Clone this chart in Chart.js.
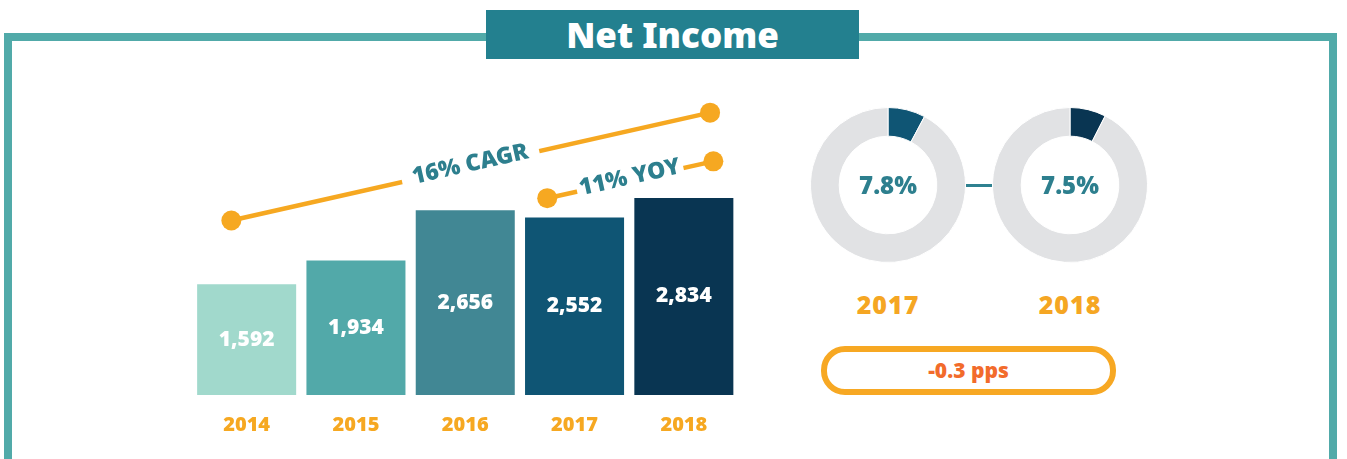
<!DOCTYPE html>
<html><head><meta charset="utf-8">
<script src="https://cdn.jsdelivr.net/npm/chart.js@4.4.1/dist/chart.umd.min.js"></script>
<style>
html,body{margin:0;padding:0;background:#fff;width:1347px;height:459px;overflow:hidden;font-family:"Noto Sans",sans-serif;}
#frame{position:absolute;left:4px;top:33px;width:1333px;height:460px;box-sizing:border-box;border:8px solid #51AAA9;border-bottom:none;}
#title{position:absolute;left:486px;top:10px;width:373px;height:49px;background:#23808F;color:#fff;font-weight:900;font-size:35px;line-height:49px;text-align:center;}
canvas{position:absolute;}
#bars{left:0;top:0;}
#d0{left:810px;top:107px;}
#d1{left:992px;top:107px;}
.dyear{position:absolute;top:288px;width:156px;text-align:center;color:#F5A623;font-weight:900;font-size:25px;letter-spacing:1px;line-height:32px;}
#link{position:absolute;left:966px;top:184px;width:26px;height:3px;background:#2E8190;}
#pill{position:absolute;left:821px;top:346px;width:295px;height:49px;box-sizing:border-box;border:6px solid #F7A823;border-radius:24px;text-align:center;line-height:37px;color:#F26B2B;font-weight:900;font-size:21px;}
</style></head>
<body>
<div id="frame"></div>
<div id="title">Net Income</div>
<canvas id="bars" width="800" height="459"></canvas>
<canvas id="d0" width="156" height="156"></canvas>
<canvas id="d1" width="156" height="156"></canvas>
<div class="dyear" id="y0" style="left:810px"></div>
<div class="dyear" id="y1" style="left:992px"></div>
<div id="link"></div>
<div id="pill"></div>
<script>
const years = ['2014','2015','2016','2017','2018'];
const netIncome = [1592,1934,2656,2552,2834];
const cagrLine = [{x:-0.14,y:2510},{x:4.24,y:4060}];
const yoyLine = [{x:2.75,y:2830},{x:4.27,y:3360}];
const lineLabels = ['16% CAGR','11% YOY'];
const marginYears = ['2017','2018'];
const marginValues = [7.8,7.5];

const ORANGE = '#F6A821';
const TEAL = '#2D7F8E';
const barColors = ['#A1D9CC','#52A9A9','#418794','#0F5574','#093552'];
const gapPads = [11,3];
const FONT = '"Noto Sans"';

const barLabelPlugin = {
  id:'barLabels',
  afterDatasetsDraw(chart){
    const ctx = chart.ctx;
    const meta = chart.getDatasetMeta(0);
    ctx.save();
    ctx.fillStyle = '#fff';
    ctx.font = '900 21px ' + FONT;
    ctx.textAlign = 'center';
    ctx.textBaseline = 'middle';
    meta.data.forEach((el,i)=>{
      ctx.fillText(netIncome[i].toLocaleString('en-US'), el.x, (el.y+el.base)/2);
    });
    [1,2].forEach((di,k)=>{
      const pts = chart.getDatasetMeta(di).data;
      const p0 = pts[0], p1 = pts[1];
      const mx = (p0.x+p1.x)/2, my = (p0.y+p1.y)/2;
      const ang = Math.atan2(p1.y-p0.y, p1.x-p0.x);
      ctx.save();
      ctx.translate(mx,my);
      ctx.rotate(ang);
      ctx.font = '900 23px ' + FONT;
      const w = ctx.measureText(lineLabels[k]).width;
      ctx.fillStyle = '#fff';
      ctx.fillRect(-w/2-gapPads[k], -6, w+2*gapPads[k], 12);
      ctx.fillStyle = TEAL;
      ctx.fillText(lineLabels[k], 0, -2);
      ctx.restore();
    });
    ctx.restore();
  }
};

new Chart(document.getElementById('bars'), {
  type:'bar',
  data:{labels:years, datasets:[
    {type:'bar', data:netIncome, backgroundColor:barColors, barPercentage:0.906, categoryPercentage:1, grouped:false, order:2},
    {type:'line', data:cagrLine, xAxisID:'x2', borderColor:ORANGE, borderWidth:4.5, pointRadius:10, pointHoverRadius:10, pointBackgroundColor:ORANGE, pointBorderWidth:0, clip:false, order:1},
    {type:'line', data:yoyLine, xAxisID:'x2', borderColor:ORANGE, borderWidth:4.5, pointRadius:10, pointHoverRadius:10, pointBackgroundColor:ORANGE, pointBorderWidth:0, clip:false, order:1}
  ]},
  options:{
    responsive:false, animation:false, devicePixelRatio:1,
    layout:{autoPadding:false, padding:{left:192,right:61.5,top:0,bottom:4}},
    plugins:{legend:{display:false}, tooltip:{enabled:false}},
    scales:{
      x:{type:'category', offset:true, grid:{display:false, drawTicks:false}, border:{display:false},
         ticks:{color:ORANGE, font:{family:'Noto Sans', weight:'900', size:20}, padding:18}},
      x2:{type:'linear', display:false, offset:false, min:-0.5, max:4.5},
      y:{display:false, min:0, max:5680}
    }
  },
  plugins:[barLabelPlugin]
});

const segColors = ['#0F5574','#093552'];
const centerTextPlugin = {
  id:'centerText',
  afterDraw(chart){
    const ctx = chart.ctx, a = chart.chartArea;
    ctx.save();
    ctx.fillStyle = TEAL;
    ctx.font = '900 24px ' + FONT;
    ctx.textAlign = 'center';
    ctx.textBaseline = 'middle';
    ctx.fillText(chart.data.datasets[0].data[0].toFixed(1) + '%', (a.left+a.right)/2, (a.top+a.bottom)/2+2);
    ctx.restore();
  }
};
marginValues.forEach((v,i)=>{
  new Chart(document.getElementById('d'+i), {
    type:'doughnut',
    data:{labels:['Margin','Rest'], datasets:[{data:[v, 100-v], backgroundColor:[segColors[i],'#E1E2E4'], borderColor:'#fff', borderWidth:1}]},
    options:{responsive:false, animation:false, devicePixelRatio:1, cutout:'63%',
      plugins:{legend:{display:false}, tooltip:{enabled:false}}},
    plugins:[centerTextPlugin]
  });
  document.getElementById('y'+i).textContent = marginYears[i];
});
const diff = (marginValues[1]-marginValues[0]).toFixed(1);
document.getElementById('pill').textContent = diff + ' pps';
</script>
</body></html>
